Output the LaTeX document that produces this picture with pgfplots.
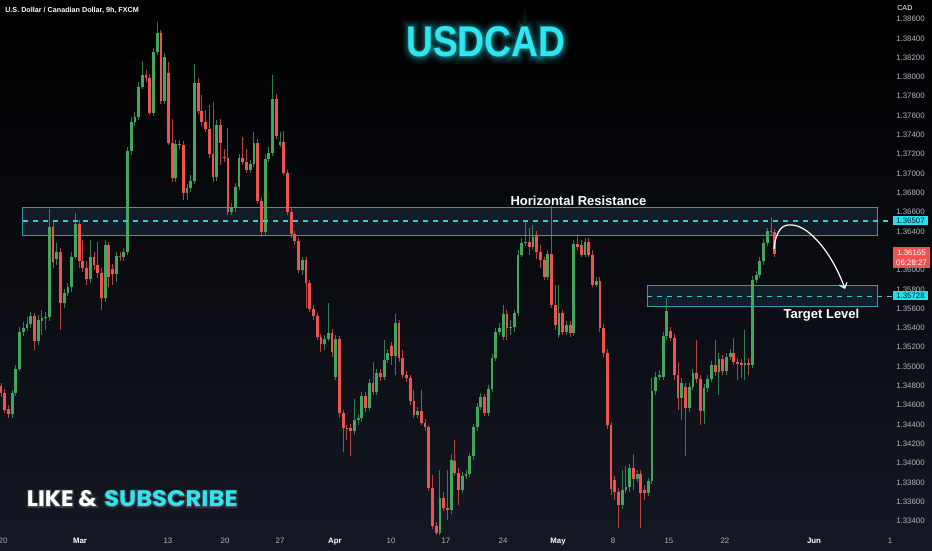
\documentclass[border=0pt]{standalone}
\usepackage{fontspec}
\setmainfont{Liberation Sans}
\newfontfamily\likefont{Poppins}
\newfontfamily\titlefont{Liberation Sans}
\usepackage{graphicx}
\usepackage{pgfplots}
\pgfplotsset{compat=1.18}
\usepackage{pgfplotstable}
\usetikzlibrary{arrows.meta}

\definecolor{bgtop}{HTML}{000000}
\definecolor{bgbot}{HTML}{141823}
\definecolor{upc}{HTML}{43A55E}
\definecolor{dnc}{HTML}{EF5350}
\definecolor{boxline}{HTML}{2A9FAA}
\definecolor{boxfill}{HTML}{2A4A66}
\definecolor{dashc}{HTML}{22D3E2}
\definecolor{tagc}{HTML}{1FE4F0}
\definecolor{titlec}{HTML}{2DE6F0}
\definecolor{axtext}{HTML}{B2B5BE}

% picture coordinates in reference pixels (origin top left)
\newcommand{\pxc}[2]{({(#1)*0.75pt},{412.5pt-(#2)*0.75pt})}
\newcommand{\mon}[1]{\textcolor{white}{\bfseries #1}}
\newcommand{\tickfont}{\fontsize{5.9}{7}\selectfont}

% 9h candles, USDCAD
\pgfplotstableread{
i O H L C
0 1.3480 1.3483 1.3469 1.3473
1 1.3473 1.3477 1.3452 1.3455
2 1.3456 1.3460 1.3447 1.3451
3 1.3451 1.3476 1.3447 1.3473
4 1.3473 1.3502 1.3470 1.3498
5 1.3498 1.3541 1.3495 1.3536
6 1.3536 1.3546 1.3532 1.3540
7 1.3540 1.3551 1.3537 1.3544
8 1.3544 1.3557 1.3540 1.3552
9 1.3552 1.3556 1.3517 1.3526
10 1.3526 1.3553 1.3522 1.3548
11 1.3547 1.3559 1.3533 1.3550
12 1.3550 1.3557 1.3538 1.3551
13 1.3551 1.3663 1.3547 1.3645
14 1.3645 1.3650 1.3602 1.3608
15 1.3611 1.3628 1.3605 1.3619
16 1.3619 1.3623 1.3538 1.3566
17 1.3566 1.3580 1.3561 1.3576
18 1.3576 1.3587 1.3573 1.3582
19 1.3582 1.3619 1.3577 1.3614
20 1.3614 1.3659 1.3611 1.3648
21 1.3648 1.3652 1.3602 1.3609
22 1.3609 1.3631 1.3598 1.3602
23 1.3602 1.3609 1.3585 1.3591
24 1.3591 1.3631 1.3587 1.3613
25 1.3613 1.3619 1.3600 1.3605
26 1.3605 1.3629 1.3592 1.3597
27 1.3597 1.3602 1.3559 1.3571
28 1.3571 1.3631 1.3567 1.3626
29 1.3626 1.3629 1.3582 1.3593
30 1.3601 1.3606 1.3585 1.3596
31 1.3596 1.3619 1.3588 1.3615
32 1.3615 1.3619 1.3609 1.3613
33 1.3613 1.3623 1.3609 1.3619
34 1.3619 1.3727 1.3616 1.3723
35 1.3723 1.3758 1.3719 1.3753
36 1.3753 1.3764 1.3749 1.3758
37 1.3758 1.3795 1.3755 1.3790
38 1.3790 1.3816 1.3787 1.3802
39 1.3802 1.3807 1.3795 1.3799
40 1.3799 1.3803 1.3761 1.3763
41 1.3763 1.3830 1.3760 1.3826
42 1.3826 1.3857 1.3823 1.3845
43 1.3845 1.3849 1.3772 1.3775
44 1.3775 1.3825 1.3772 1.3821
45 1.3804 1.3815 1.3729 1.3732
46 1.3732 1.3756 1.3691 1.3695
47 1.3695 1.3735 1.3691 1.3731
48 1.3731 1.3735 1.3725 1.3729
49 1.3730 1.3734 1.3673 1.3680
50 1.3680 1.3689 1.3673 1.3685
51 1.3685 1.3698 1.3681 1.3692
52 1.3692 1.3813 1.3689 1.3794
53 1.3794 1.3799 1.3762 1.3765
54 1.3765 1.3781 1.3749 1.3753
55 1.3753 1.3766 1.3743 1.3746
56 1.3746 1.3771 1.3716 1.3720
57 1.3720 1.3774 1.3691 1.3696
58 1.3696 1.3755 1.3692 1.3750
59 1.3750 1.3756 1.3709 1.3732
60 1.3717 1.3725 1.3712 1.3716
61 1.3716 1.3747 1.3657 1.3660
62 1.3660 1.3669 1.3657 1.3665
63 1.3665 1.3690 1.3660 1.3686
64 1.3686 1.3720 1.3683 1.3716
65 1.3716 1.3738 1.3709 1.3712
66 1.3712 1.3725 1.3700 1.3704
67 1.3704 1.3714 1.3700 1.3710
68 1.3710 1.3743 1.3707 1.3732
69 1.3732 1.3736 1.3668 1.3671
70 1.3671 1.3675 1.3634 1.3639
71 1.3639 1.3719 1.3636 1.3715
72 1.3715 1.3727 1.3712 1.3721
73 1.3721 1.3802 1.3718 1.3777
74 1.3777 1.3782 1.3736 1.3739
75 1.3730 1.3743 1.3727 1.3733
76 1.3733 1.3744 1.3698 1.3701
77 1.3701 1.3704 1.3657 1.3660
78 1.3660 1.3665 1.3633 1.3637
79 1.3637 1.3640 1.3626 1.3630
80 1.3630 1.3633 1.3597 1.3600
81 1.3600 1.3614 1.3595 1.3610
82 1.3610 1.3613 1.3561 1.3587
83 1.3587 1.3590 1.3557 1.3560
84 1.3560 1.3564 1.3548 1.3552
85 1.3552 1.3555 1.3528 1.3531
86 1.3531 1.3534 1.3515 1.3523
87 1.3523 1.3533 1.3517 1.3529
88 1.3529 1.3566 1.3526 1.3535
89 1.3535 1.3539 1.3510 1.3515
90 1.3489 1.3533 1.3486 1.3529
91 1.3529 1.3532 1.3447 1.3452
92 1.3452 1.3455 1.3412 1.3436
93 1.3436 1.3440 1.3424 1.3435
94 1.3436 1.3441 1.3407 1.3433
95 1.3433 1.3466 1.3429 1.3445
96 1.3445 1.3451 1.3440 1.3447
97 1.3447 1.3474 1.3443 1.3470
98 1.3470 1.3474 1.3453 1.3457
99 1.3457 1.3487 1.3454 1.3483
100 1.3483 1.3505 1.3471 1.3474
101 1.3474 1.3497 1.3471 1.3493
102 1.3493 1.3497 1.3485 1.3489
103 1.3489 1.3528 1.3486 1.3507
104 1.3507 1.3518 1.3504 1.3514
105 1.3521 1.3525 1.3502 1.3511
106 1.3511 1.3554 1.3491 1.3545
107 1.3545 1.3548 1.3505 1.3509
108 1.3509 1.3517 1.3488 1.3491
109 1.3491 1.3495 1.3484 1.3488
110 1.3488 1.3491 1.3460 1.3464
111 1.3464 1.3476 1.3447 1.3450
112 1.3450 1.3458 1.3447 1.3454
113 1.3454 1.3476 1.3439 1.3442
114 1.3442 1.3446 1.3433 1.3437
115 1.3437 1.3440 1.3371 1.3374
116 1.3374 1.3388 1.3332 1.3335
117 1.3335 1.3339 1.3326 1.3328
118 1.3328 1.3393 1.3326 1.3364
119 1.3364 1.3370 1.3350 1.3354
120 1.3354 1.3393 1.3341 1.3351
121 1.3351 1.3409 1.3347 1.3403
122 1.3402 1.3424 1.3387 1.3390
123 1.3390 1.3395 1.3357 1.3372
124 1.3372 1.3391 1.3369 1.3387
125 1.3387 1.3393 1.3384 1.3389
126 1.3389 1.3411 1.3386 1.3407
127 1.3407 1.3441 1.3403 1.3437
128 1.3437 1.3462 1.3433 1.3458
129 1.3458 1.3473 1.3455 1.3468
130 1.3468 1.3472 1.3449 1.3452
131 1.3452 1.3481 1.3449 1.3477
132 1.3477 1.3513 1.3474 1.3509
133 1.3509 1.3540 1.3506 1.3536
134 1.3536 1.3545 1.3533 1.3540
135 1.3531 1.3564 1.3528 1.3554
136 1.3554 1.3559 1.3528 1.3540
137 1.3540 1.3548 1.3533 1.3541
138 1.3541 1.3559 1.3536 1.3555
139 1.3555 1.3621 1.3552 1.3616
140 1.3616 1.3633 1.3613 1.3628
141 1.3628 1.3650 1.3625 1.3629
142 1.3629 1.3644 1.3616 1.3624
143 1.3624 1.3647 1.3621 1.3634
144 1.3635 1.3640 1.3611 1.3619
145 1.3619 1.3626 1.3602 1.3610
146 1.3610 1.3614 1.3590 1.3593
147 1.3593 1.3621 1.3590 1.3617
148 1.3617 1.3666 1.3561 1.3564
149 1.3564 1.3585 1.3538 1.3543
150 1.3533 1.3585 1.3530 1.3555
151 1.3555 1.3559 1.3533 1.3536
152 1.3536 1.3547 1.3533 1.3543
153 1.3543 1.3547 1.3531 1.3535
154 1.3535 1.3631 1.3532 1.3627
155 1.3627 1.3637 1.3621 1.3624
156 1.3626 1.3631 1.3613 1.3616
157 1.3616 1.3633 1.3613 1.3629
158 1.3629 1.3633 1.3613 1.3616
159 1.3616 1.3621 1.3582 1.3585
160 1.3585 1.3593 1.3582 1.3589
161 1.3589 1.3593 1.3536 1.3540
162 1.3540 1.3544 1.3510 1.3514
163 1.3514 1.3518 1.3435 1.3439
164 1.3439 1.3443 1.3367 1.3373
165 1.3383 1.3387 1.3362 1.3370
166 1.3370 1.3374 1.3333 1.3357
167 1.3357 1.3393 1.3352 1.3372
168 1.3372 1.3397 1.3369 1.3375
169 1.3375 1.3399 1.3370 1.3395
170 1.3395 1.3409 1.3372 1.3384
171 1.3384 1.3393 1.3380 1.3389
172 1.3389 1.3393 1.3333 1.3369
173 1.3372 1.3377 1.3362 1.3369
174 1.3369 1.3385 1.3366 1.3381
175 1.3381 1.3488 1.3378 1.3475
176 1.3475 1.3494 1.3471 1.3489
177 1.3489 1.3496 1.3486 1.3491
178 1.3489 1.3536 1.3486 1.3532
179 1.3532 1.3571 1.3528 1.3558
180 1.3537 1.3541 1.3526 1.3530
181 1.3530 1.3534 1.3486 1.3491
182 1.3491 1.3505 1.3455 1.3467
183 1.3467 1.3488 1.3445 1.3483
184 1.3479 1.3483 1.3407 1.3457
185 1.3457 1.3483 1.3453 1.3479
186 1.3479 1.3497 1.3476 1.3493
187 1.3493 1.3528 1.3483 1.3487
188 1.3487 1.3491 1.3440 1.3454
189 1.3454 1.3482 1.3441 1.3478
190 1.3478 1.3491 1.3474 1.3487
191 1.3487 1.3506 1.3484 1.3502
192 1.3502 1.3528 1.3490 1.3494
193 1.3494 1.3514 1.3471 1.3508
194 1.3508 1.3512 1.3491 1.3495
195 1.3495 1.3514 1.3491 1.3510
196 1.3510 1.3518 1.3507 1.3514
197 1.3514 1.3530 1.3502 1.3505
198 1.3505 1.3509 1.3486 1.3503
199 1.3504 1.3508 1.3488 1.3502
200 1.3502 1.3538 1.3486 1.3504
201 1.3504 1.3509 1.3491 1.3502
202 1.3502 1.3594 1.3499 1.3590
203 1.3590 1.3599 1.3587 1.3595
204 1.3595 1.3613 1.3592 1.3609
205 1.3609 1.3632 1.3605 1.3628
206 1.3628 1.3644 1.3625 1.3640
207 1.3640 1.3655 1.3636 1.3639
208 1.3639 1.3643 1.3614 1.3617
}\candles

\begin{document}
\begin{tikzpicture}
\shade[top color=bgtop, bottom color=bgbot] (0,0) rectangle (699pt,412.5pt);

\begin{axis}[
  at={(0pt,412.5pt)}, anchor=north west,
  scale only axis, width=662.25pt, height=400.5pt,
  xmin=-0.27, xmax=237.1, ymin=1.33266, ymax=1.38797,
  clip=false,
  axis line style={draw=none},
  major tick length=0pt,
  scaled y ticks=false,
  ytick={1.334,1.336,1.338,1.340,1.342,1.344,1.346,1.348,1.350,1.352,1.354,1.356,1.358,
         1.360,1.362,1.364,1.366,1.368,1.370,1.372,1.374,1.376,1.378,1.380,1.382,1.384,1.386},
  yticklabel pos=right,
  yticklabel style={anchor=west, inner sep=0pt, xshift=9.75pt, font=\tickfont, text=axtext,
    /pgf/number format/.cd, fixed, fixed zerofill, precision=5, assume math mode=true},
  xtick={0.54,21.24,44.89,60.22,75,89.78,104.84,119.62,134.95,149.73,164.52,179.57,194.62,218.55},
  xticklabels={20,\mon{Mar},13,20,27,\mon{Apr},10,17,24,\mon{May},8,15,22,\mon{Jun}},
  xticklabel style={anchor=base, inner sep=0pt, yshift=-7.35pt, font=\tickfont, text=axtext},
  candle/.style={draw=none, mark=none, forget plot,
    error bars/.cd, y dir=plus, y explicit, error mark=none},
]

% zones
\fill[boxfill, fill opacity=0.3] (axis cs:5.9,1.36358) rectangle (axis cs:235.5,1.36643);
\draw[boxline, line width=0.75pt] (axis cs:5.9,1.36358) rectangle (axis cs:235.5,1.36643);
\fill[boxfill, fill opacity=0.3] (axis cs:173.7,1.35620) rectangle (axis cs:235.5,1.35835);
\draw[boxline, line width=0.75pt] (axis cs:173.7,1.35620) rectangle (axis cs:235.5,1.35835);

% wicks
\addplot[restrict expr to domain={\thisrow{C}-\thisrow{O}}{0:1}, candle,
  error bar style={line width=0.75pt, draw=upc, opacity=0.75}]
  table[x=i, y=L, y error plus expr=\thisrow{H}-\thisrow{L}] {\candles};
\addplot[restrict expr to domain={\thisrow{C}-\thisrow{O}}{-1:0}, candle,
  error bar style={line width=0.75pt, draw=dnc, opacity=0.75}]
  table[x=i, y=L, y error plus expr=\thisrow{H}-\thisrow{L}] {\candles};
% bodies
\addplot[restrict expr to domain={\thisrow{C}-\thisrow{O}}{0:1}, candle,
  error bar style={line width=2.1pt, draw=upc}]
  table[x=i, y=O, y error plus expr=\thisrow{C}-\thisrow{O}] {\candles};
\addplot[restrict expr to domain={\thisrow{C}-\thisrow{O}}{-1:0}, candle,
  error bar style={line width=2.1pt, draw=dnc}]
  table[x=i, y=C, y error plus expr=\thisrow{O}-\thisrow{C}] {\candles};

% level lines
\draw[dashc, line width=1pt, dash pattern=on 4pt off 3.5pt] (axis cs:5.9,1.36507) -- (axis cs:239.5,1.36507);
\draw[dashc, line width=1pt, dash pattern=on 4pt off 3.5pt] (axis cs:173.7,1.35728) -- (axis cs:239.5,1.35728);
\end{axis}

% header
\node[anchor=base west, inner sep=0pt, text=white, font=\bfseries\fontsize{5.4}{6}\selectfont]
  at \pxc{5}{12.5} {U.S. Dollar / Canadian Dollar, 9h, FXCM};
\node[anchor=base west, inner sep=0pt, text=white, font=\fontsize{5.4}{6}\selectfont]
  at \pxc{897}{10.7} {CAD};
\node[anchor=base, inner sep=0pt, text=axtext, font=\tickfont] at \pxc{890}{543.5} {1};

% big title with a soft glow (emboldened copies underneath)
\foreach \fb/\op in {34/0.05, 24/0.07, 15/0.10, 7/0.16}{
  \node[anchor=base west, inner sep=0pt, text=titlec, opacity=\op] at \pxc{406}{56.7}
    {\resizebox{119.25pt}{22.5pt}{\titlefont\bfseries\addfontfeature{FakeBold=\fb}USDCAD}};
}
\node[anchor=base west, inner sep=0pt, text=titlec] at \pxc{406}{56.7}
  {\resizebox{119.25pt}{22.5pt}{\titlefont\bfseries USDCAD}};

% like & subscribe
\foreach \fb/\op in {16/0.06, 8/0.10}{
  \node[anchor=base west, inner sep=0pt, text=white, opacity=\op] at \pxc{26.7}{506.7}
    {\resizebox{52.5pt}{12pt}{\likefont\bfseries\addfontfeature{FakeBold=\fb}LIKE \&}};
  \node[anchor=base west, inner sep=0pt, text=white, opacity=\op] at \pxc{104}{506.7}
    {\resizebox{100pt}{12pt}{\likefont\bfseries\addfontfeature{FakeBold=\fb}SUBSCRIBE}};
}
\node[anchor=base west, inner sep=0pt, text=white] at \pxc{26.7}{506.7}
  {\resizebox{52.5pt}{12pt}{\likefont\bfseries LIKE \&}};
\node[anchor=base west, inner sep=0pt, text=titlec] at \pxc{104}{506.7}
  {\resizebox{100pt}{12pt}{\likefont\bfseries SUBSCRIBE}};

% zone labels
\node[anchor=base, inner sep=0pt, text=white, font=\bfseries\fontsize{9.75}{11}\selectfont]
  at \pxc{578.5}{206} {Horizontal Resistance};
\node[anchor=base, inner sep=0pt, text=white, font=\bfseries\fontsize{9.75}{11}\selectfont]
  at \pxc{821.5}{318.3} {Target Level};

% projected path
\draw[white, line width=0.9pt, -{Straight Barb[length=3.5pt, width=6pt]}]
  \pxc{774}{249} .. controls \pxc{776}{228} and \pxc{784}{224} .. \pxc{792}{225}
  .. controls \pxc{810}{226} and \pxc{833}{255} .. \pxc{845}{289};

% price tags
\fill[tagc] \pxc{893}{216} rectangle \pxc{928}{225.5};
\node[text=bgbot, font=\tickfont, inner sep=0pt] at \pxc{910.5}{220.8} {1.36507};
\fill[tagc] \pxc{893}{291} rectangle \pxc{928}{300.5};
\node[text=bgbot, font=\tickfont, inner sep=0pt] at \pxc{910.5}{295.8} {1.35728};
\fill[dnc] \pxc{893}{247} rectangle \pxc{930}{268};
\node[text=white, font=\tickfont, inner sep=0pt] at \pxc{911.5}{252.5} {1.36165};
\node[text=white, font=\tickfont, inner sep=0pt] at \pxc{911.5}{262.5} {06:28:27};

\pgfresetboundingbox
\path (0,0) rectangle (699pt,412.5pt);
\end{tikzpicture}
\end{document}
